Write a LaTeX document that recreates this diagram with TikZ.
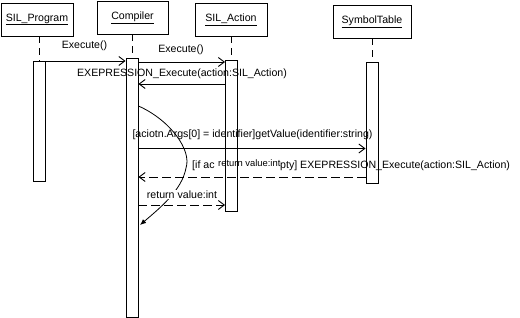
\documentclass[tikz,border=0pt]{standalone}
\usepackage{fontspec}
\setmainfont{Liberation Sans}
\usetikzlibrary{arrows.meta}
\begin{document}
\begin{tikzpicture}[x=1pt,y=-1pt,
  every node/.style={font=\fontsize{10.6}{12}\selectfont, inner sep=0pt},
  objbox/.style={draw, line width=0.9pt, minimum height=33pt, inner sep=0pt},
  actbar/.style={draw, fill=white, line width=0.9pt, minimum width=12pt, anchor=north},
  lifeline/.style={line width=0.9pt, dash pattern=on 7pt off 5pt},
  msg/.style={line width=0.9pt, -{Straight Barb[length=6pt,width=9pt]}},
  reply/.style={msg, dash pattern=on 9pt off 4pt},
  lbl/.style={anchor=base},
]
\useasboundingbox[fill=white] (0,0) rectangle (520,318);

% object headers
\node[objbox, minimum width=72pt] (prog) at (37,19.5) {\underline{SIL\_Program}};
\node[objbox, minimum width=71pt] (comp) at (132.5,17.5) {\underline{Compiler}};
\node[objbox, minimum width=72pt] (act)  at (231,19.5) {\underline{SIL\_Action}};
\node[objbox, minimum width=78pt] (sym)  at (372,21.5) {\underline{SymbolTable}};

% activation bars
\node[actbar, minimum height=120pt] (progbar) at (39.5,61) {};
\node[actbar, minimum height=259pt] (compbar) at (132,58) {};
\node[actbar, minimum height=151pt] (actbar)  at (231.5,60) {};
\node[actbar, minimum height=121pt] (symbar)  at (372,62) {};

% lifelines
\draw[lifeline] (progbar.north |- prog.south) -- (progbar.north);
\draw[lifeline] (compbar.north |- comp.south) -- (compbar.north);
\draw[lifeline] (actbar.north |- act.south) -- (actbar.north);
\draw[lifeline] (symbar.north |- sym.south) -- (symbar.north);

% messages
\draw[msg] (progbar.east |- 0,61) -- (compbar.west |- 0,61);
\node[lbl] (m1) at (84.5,48.5) {Execute()};

\draw[msg] (compbar.east |- 0,62) -- (actbar.west |- 0,62);
\node[lbl] (m2) at (181,52.5) {Execute()};

\draw[msg] (actbar.west |- 0,84) -- (compbar.east |- 0,84);
\node[lbl] (m3) at (182,77) {EXEPRESSION\_Execute(action:SIL\_Action)};

\draw[msg] (compbar.east |- 0,148.5) -- (symbar.west |- 0,148.5);
\node[lbl] (m4) at (252.5,137.5) {[aciotn.Args[0] = identifier]getValue(identifier:string)};

\draw[reply] (symbar.west |- 0,177) -- (compbar.east |- 0,177);
\node[lbl, anchor=base west] (m5a) at (192,169) {[if ac};
\node[lbl, anchor=base west] (m5b) at (280,169) {pty] EXEPRESSION\_Execute(action:SIL\_Action)};
\node[lbl, anchor=base west, font=\fontsize{9.4}{11}\selectfont] (m5c) at (218,166.5) {return value:int};

% self call curve
\draw[line width=0.8pt, -{Latex[length=6pt,width=5pt]}]
  (compbar.east |- 0,106) .. controls (170,120) and (192,150) .. (186,168)
  .. controls (182,190) and (160,208) .. (140,225);
\node[lbl, fill=white, inner sep=1pt] (m6) at (182,198.3) {return value:int};

\draw[reply] (compbar.east |- 0,205) -- (actbar.west |- 0,205);
\end{tikzpicture}
\end{document}
